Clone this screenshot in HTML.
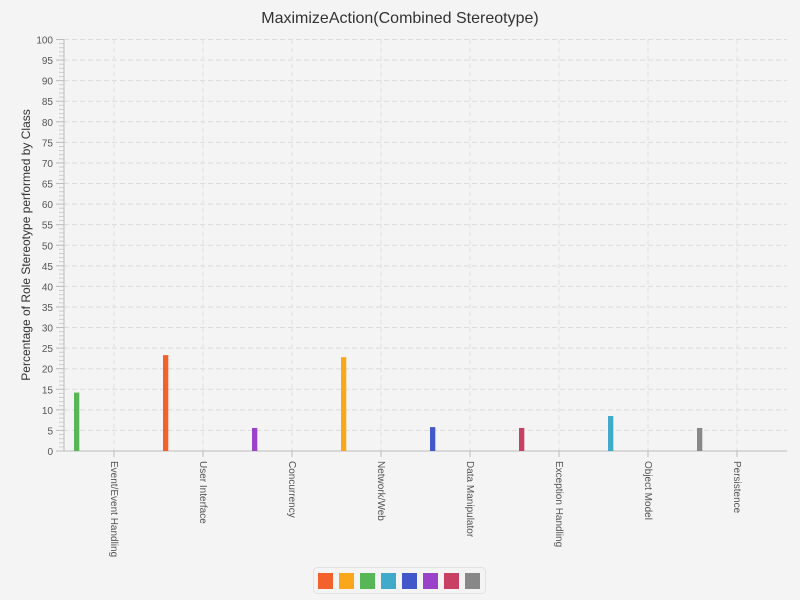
<!DOCTYPE html>
<html><head><meta charset="utf-8"><style>
body{margin:0;background:#f4f4f4;}
svg{display:block;font-family:"Liberation Sans",sans-serif;}
</style></head><body>
<svg id="c" width="800" height="600">
<rect width="800" height="600" fill="#f4f4f4"/>
<text x="400" y="23" text-anchor="middle" font-size="16" fill="#333">MaximizeAction(Combined Stereotype)</text>
<text transform="translate(30,245) rotate(-90)" text-anchor="middle" font-size="12" fill="#333">Percentage of Role Stereotype performed by Class</text>
<g id="grid"></g><g id="axes"></g><g id="bars"></g>
<rect x="313.5" y="567.5" width="172" height="26" rx="4" fill="#f4f4f4" stroke="#e2e2e2"/>
<g id="legend"></g>
</svg>
<script>
const categories=["Event/Event Handling","User Interface","Concurrency","Network/Web","Data Manipulator","Exception Handling","Object Model","Persistence"];
const seriesColors=["#f3622d","#fba71b","#57b757","#41a9c9","#4258c9","#9a42c8","#c84164","#888888"];
const barCategory=[1,3,0,6,4,2,5,7];
const barValues=[23.3,22.8,14.2,8.5,5.8,5.6,5.6,5.6];
const yTicks=[0,5,10,15,20,25,30,35,40,45,50,55,60,65,70,75,80,85,90,95,100];
const NS="http://www.w3.org/2000/svg";
const X0=64,X1=787,Y0=451,Y1=39.5;
const y=v=>Y0-(Y0-Y1)*v/100;
const xc=i=>114+89*i;
function mk(p,t,a){const e=document.createElementNS(NS,t);for(const k in a)e.setAttribute(k,a[k]);document.getElementById(p).appendChild(e);return e;}
yTicks.forEach(t=>{
 if(t>0){const g=mk('grid','line',{x1:X0,x2:X1,y1:y(t),y2:y(t),stroke:'#dcdcdc','stroke-dasharray':'5,3'});
 
 }
 mk('axes','line',{x1:56,x2:X0,y1:y(t),y2:y(t),stroke:'#bbb'});
 const l=mk('axes','text',{x:53,y:y(t)+4,'text-anchor':'end','font-size':'10',fill:'#555'});
 l.textContent=t;
 
 
 if(t<100)for(let m=1;m<5;m++){mk('axes','line',{x1:59,x2:X0,y1:y(t+m),y2:y(t+m),stroke:'#ccc'});}
});
categories.forEach((c,i)=>{
 const g=mk('grid','line',{x1:xc(i),x2:xc(i),y1:Y1,y2:Y0,stroke:'#e0e0e0','stroke-dasharray':'5,3'});
 
 
 mk('axes','line',{x1:xc(i),x2:xc(i),y1:Y0,y2:Y0+6,stroke:'#bbb'});
 const l=mk('axes','text',{transform:`translate(${xc(i)-3},461) rotate(90)`,'font-size':'10',fill:'#555'});
 l.textContent=c;
 
 
});
mk('axes','line',{x1:X0,x2:X0,y1:Y1,y2:Y0,stroke:'#bbb'});
mk('axes','line',{x1:X0,x2:X1,y1:Y0,y2:Y0,stroke:'#bbb'});
barValues.forEach((v,s)=>{
 const b=mk('bars','rect',{x:xc(barCategory[s])-40,y:y(v),width:5.3,height:Y0-y(v),fill:seriesColors[s]});
 
 
});
seriesColors.forEach((c,s)=>{
 const r=mk('legend','rect',{x:318+21*s,y:573,width:15,height:16,fill:c});
 
 
});
</script>
</body></html>
